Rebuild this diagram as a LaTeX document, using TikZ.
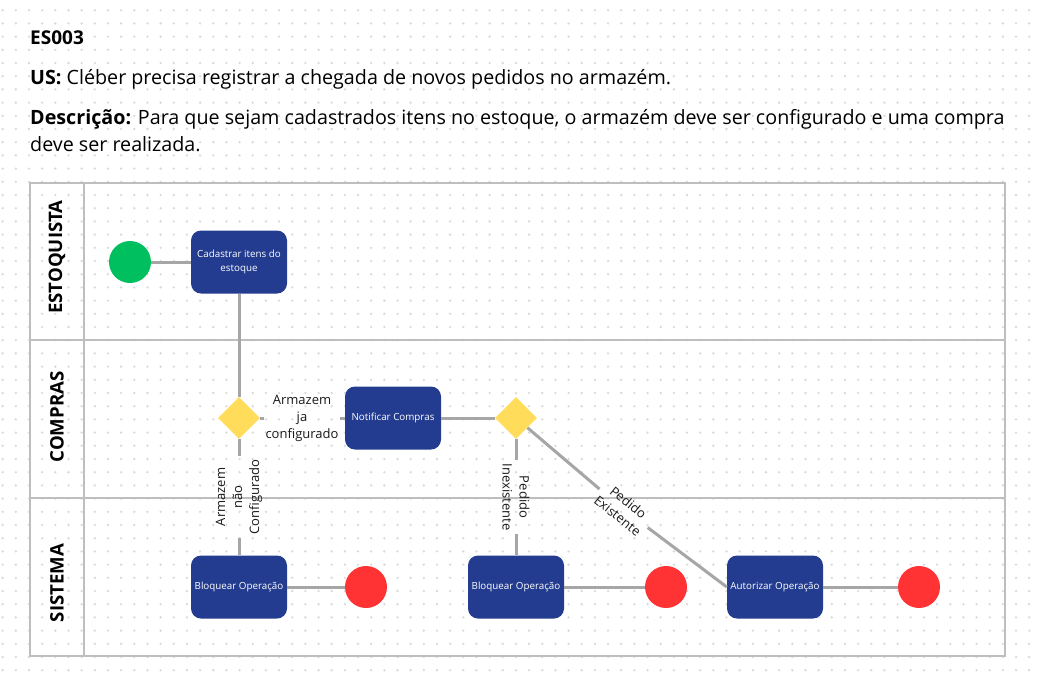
\documentclass[tikz,border=0pt]{standalone}
\usepackage{fontspec}
\setmainfont{Open Sans}
\usetikzlibrary{shapes.geometric}
\definecolor{boxblue}{HTML}{233C8F}
\definecolor{startgreen}{HTML}{00BF5F}
\definecolor{endred}{HTML}{FF3333}
\definecolor{gateyellow}{HTML}{FFDC5A}
\definecolor{flowgrey}{HTML}{A6A6A6}
\definecolor{lanegrey}{HTML}{BEBEBE}
\definecolor{dotgrey}{HTML}{DADADA}
\definecolor{txt}{HTML}{1A1A1A}
\tikzset{
  taskbox/.style={draw=none, fill=boxblue, rounded corners=10pt, minimum width=96pt, minimum height=63pt,
    text=white, align=center, inner sep=2pt, font=\fontsize{9.8}{13.3}\selectfont},
  startev/.style={circle, fill=startgreen, minimum size=42pt, inner sep=0pt},
  endev/.style={circle, fill=endred, minimum size=42pt, inner sep=0pt},
  gate/.style={diamond, fill=gateyellow, minimum width=42pt, minimum height=42pt, aspect=1, inner sep=0pt},
  flow/.style={draw=flowgrey, line width=3pt},
  flowlabel/.style={align=center, text=txt, font=\fontsize{13}{17}\selectfont, inner sep=3pt},
  lanelabel/.style={rotate=90, text=black, font=\bfseries\fontsize{18.6}{22}\selectfont},
  headtext/.style={anchor=base west, inner sep=0pt, text=black, font=\fontsize{19.7}{22}\selectfont},
}
\begin{document}
\begin{tikzpicture}[x=1pt,y=-1pt]
\useasboundingbox (0,0) rectangle (1040,681);
\fill[white] (0,0) rectangle (1040,681);
% dot grid
\foreach \i in {0,...,78} {
  \foreach \j in {0,...,51} {
    \fill[dotgrey] (2.7+13.16*\i, 10.2+13.2*\j) circle (1.3pt);
  }
}
% header
\node[headtext, font=\bfseries\fontsize{19}{22}\selectfont] (title) at (30,44) {ES003};
\node[headtext] (us) at (30,84) {\textbf{US:} Cléber precisa registrar a chegada de novos pedidos no armazém.};
\node[headtext] (desc1) at (30,124) {\textbf{Descrição:} Para que sejam cadastrados itens no estoque, o armazém deve ser configurado e uma compra};
\node[headtext] (desc2) at (30,151) {deve ser realizada.};
% pool and lanes
\draw[lanegrey, line width=1.5pt] (30,183) rectangle (1005,656);
\draw[lanegrey, line width=1.5pt] (84,183) -- (84,656);
\draw[lanegrey, line width=1.5pt] (30,340) -- (1005,340);
\draw[lanegrey, line width=1.5pt] (30,498) -- (1005,498);
\node[lanelabel] (l1) at (57,257) {ESTOQUISTA};
\node[lanelabel] (l2) at (57,417) {COMPRAS};
\node[lanelabel] (l3) at (57,583) {SISTEMA};
% nodes
\node[startev] (start) at (130,262) {};
\node[taskbox] (cad) at (239,262) {Cadastrar itens do\\estoque};
\node[gate] (d1) at (239,418) {};
\node[taskbox] (notif) at (393,418) {Notificar Compras};
\node[gate] (d2) at (516,418) {};
\node[taskbox] (bloq1) at (239,587) {Bloquear Operação};
\node[endev] (end1) at (366,587) {};
\node[taskbox] (bloq2) at (516,587) {Bloquear Operação};
\node[endev] (end2) at (666,587) {};
\node[taskbox] (aut) at (775,587) {Autorizar Operação};
\node[endev] (end3) at (919,587) {};
% labels
\node[flowlabel, inner xsep=1pt] (lja) at (302,418) {Armazem\\ja\\configurado};
\node[flowlabel, rotate=90] (lnao) at (239,497) {Armazem\\não\\Configurado};
\node[flowlabel, rotate=-90] (linex) at (516,497) {Pedido\\Inexistente};
\node[flowlabel, rotate=-38.6] (lexist) at (623,509) {Pedido\\Existente};
% flows
\draw[flow] (start) -- (cad);
\draw[flow] (cad) -- (d1);
\draw[flow] (d1) -- (lja);
\draw[flow] (lja) -- (notif);
\draw[flow] (d1) -- (lnao);
\draw[flow] (lnao) -- (bloq1);
\draw[flow] (notif) -- (d2);
\draw[flow] (d2) -- (linex);
\draw[flow] (linex) -- (bloq2);
\draw[flow] (d2) -- (lexist);
\draw[flow] (lexist) -- (aut.west);
\draw[flow] (bloq1) -- (end1);
\draw[flow] (bloq2) -- (end2);
\draw[flow] (aut) -- (end3);
\end{tikzpicture}
\end{document}
